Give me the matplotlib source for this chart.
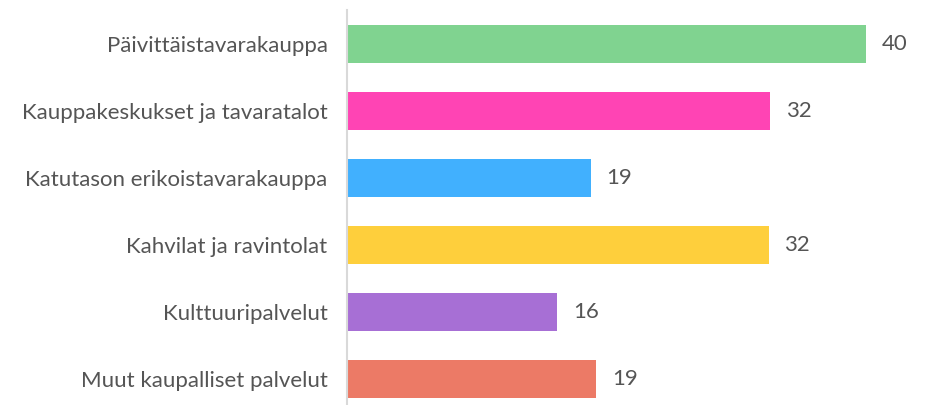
import matplotlib
matplotlib.use("Agg")
import matplotlib.pyplot as plt

categories = [
    "Päivittäistavarakauppa",
    "Kauppakeskukset ja tavaratalot",
    "Katutason erikoistavarakauppa",
    "Kahvilat ja ravintolat",
    "Kulttuuripalvelut",
    "Muut kaupalliset palvelut",
]
values = [40, 32.6, 18.8, 32.5, 16.2, 19.2]
labels = ["40", "32", "19", "32", "16", "19"]
colors = ["#80d390", "#ff44b4", "#41b0fe", "#fecf3c", "#a76fd5", "#ec7a66"]

plt.rcParams["font.family"] = ["Lato", "DejaVu Sans"]

fig = plt.figure(figsize=(9.26, 4.05), dpi=100)
ax = fig.add_axes([347 / 926, 0, 1 - 347 / 926, 395 / 405])

y = list(range(len(categories)))
ax.barh(y, values, height=0.57, color=colors)

for yi, v, lab in zip(y, values, labels):
    ax.text(v + 1.2, yi, lab, va="center", ha="left", fontsize=16, color="#555555")

ax.set_ylim(5.39, -0.507)
ax.set_xlim(0, 44.6)
ax.set_yticks(y)
ax.set_yticklabels(categories, fontsize=16, color="#555555")
ax.tick_params(axis="y", length=0, pad=14)
ax.set_xticks([])

for s in ["top", "right", "bottom"]:
    ax.spines[s].set_visible(False)
ax.spines["left"].set_color("#d9d9d9")
ax.spines["left"].set_linewidth(1.5)

fig.savefig("out.png", dpi=100)
